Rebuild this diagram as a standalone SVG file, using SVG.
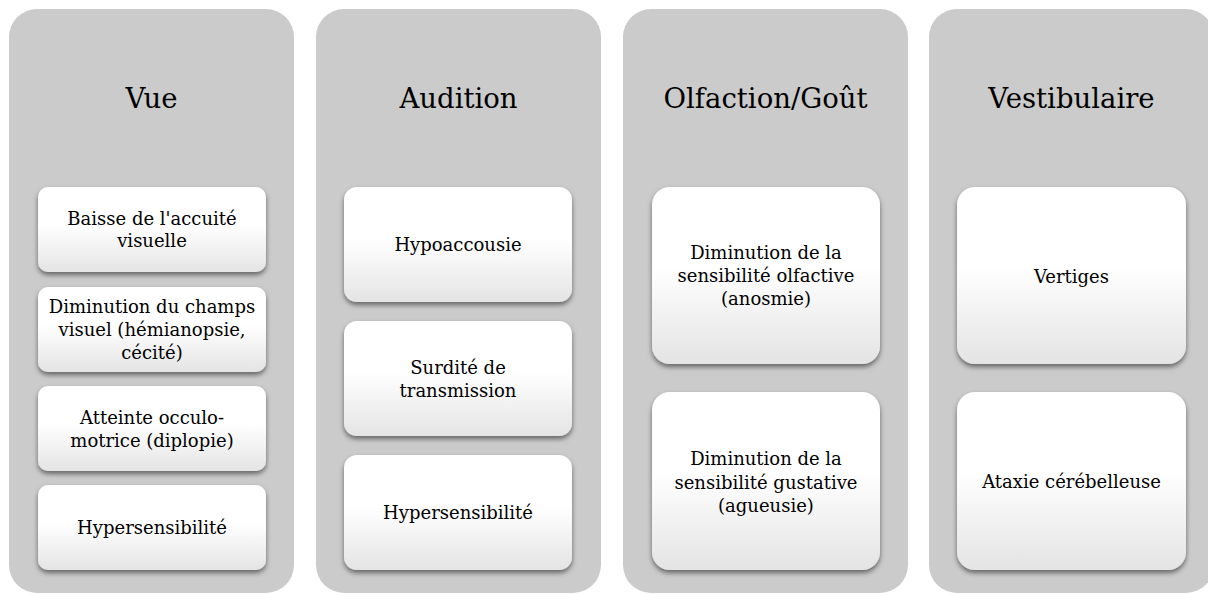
<svg xmlns="http://www.w3.org/2000/svg" width="1208" height="595" viewBox="0 0 1208 595">
<style>
.panel{fill:#cbcbcb}
.box{fill:url(#g);filter:url(#sh)}
.t{font-family:"DejaVu Serif","Liberation Serif",serif;fill:#000;text-anchor:middle}
.title{font-size:27.5px}
.lbl{font-size:18px}
</style>
<defs>
<linearGradient id="g" x1="0" y1="0" x2="0" y2="1">
<stop offset="0" stop-color="#ffffff"/>
<stop offset="0.45" stop-color="#ffffff"/>
<stop offset="1" stop-color="#e4e4e4"/>
</linearGradient>
<filter id="sh" x="-10%" y="-10%" width="120%" height="130%">
<feDropShadow dx="0" dy="3" stdDeviation="2.5" flood-color="#000" flood-opacity="0.5"/>
</filter>
</defs>
<rect width="1208" height="595" fill="#fff"/>
<g id="vue">
<rect class="panel" x="9" y="9" width="285" height="584" rx="28"/>
<text class="t title" x="151.5" y="107.5">Vue</text>
<g id="vue-1"><rect class="box" x="38" y="187" width="228" height="85" rx="10"/>
<text class="t lbl" x="152" y="224.5">Baisse de l'accuité</text><text class="t lbl" x="152" y="247">visuelle</text></g>
<g id="vue-2"><rect class="box" x="38" y="287" width="228" height="85" rx="10"/>
<text class="t lbl" x="152" y="313">Diminution du champs</text><text class="t lbl" x="152" y="335.5">visuel (hémianopsie,</text><text class="t lbl" x="152" y="358.5">cécité)</text></g>
<g id="vue-3"><rect class="box" x="38" y="386" width="228" height="85" rx="10"/>
<text class="t lbl" x="152" y="423.5">Atteinte occulo-</text><text class="t lbl" x="152" y="446.5">motrice (diplopie)</text></g>
<g id="vue-4"><rect class="box" x="38" y="485" width="228" height="85" rx="10"/>
<text class="t lbl" x="152" y="533.5">Hypersensibilité</text></g>
</g>
<g id="audition">
<rect class="panel" x="316" y="9" width="285" height="584" rx="28"/>
<text class="t title" x="458.5" y="108">Audition</text>
<g id="aud-1"><rect class="box" x="344" y="187" width="228" height="115" rx="13"/>
<text class="t lbl" x="458" y="251">Hypoaccousie</text></g>
<g id="aud-2"><rect class="box" x="344" y="321" width="228" height="115" rx="13"/>
<text class="t lbl" x="458" y="374">Surdité de</text><text class="t lbl" x="458" y="396.5">transmission</text></g>
<g id="aud-3"><rect class="box" x="344" y="455" width="228" height="115" rx="13"/>
<text class="t lbl" x="458" y="518.5">Hypersensibilité</text></g>
</g>
<g id="olfaction">
<rect class="panel" x="623" y="9" width="285" height="584" rx="28"/>
<text class="t title" x="765.5" y="108">Olfaction/Goût</text>
<g id="olf-1"><rect class="box" x="652" y="187" width="228" height="177" rx="18"/>
<text class="t lbl" x="766" y="259">Diminution de la</text><text class="t lbl" x="766" y="282">sensibilité olfactive</text><text class="t lbl" x="766" y="305">(anosmie)</text></g>
<g id="olf-2"><rect class="box" x="652" y="392" width="228" height="178" rx="18"/>
<text class="t lbl" x="766" y="465">Diminution de la</text><text class="t lbl" x="766" y="488.5">sensibilité gustative</text><text class="t lbl" x="766" y="511.5">(agueusie)</text></g>
</g>
<g id="vestibulaire">
<rect class="panel" x="929" y="9" width="285" height="584" rx="28"/>
<text class="t title" x="1071.5" y="108">Vestibulaire</text>
<g id="ves-1"><rect class="box" x="957" y="187" width="229" height="177" rx="18"/>
<text class="t lbl" x="1071.5" y="283">Vertiges</text></g>
<g id="ves-2"><rect class="box" x="957" y="392" width="229" height="178" rx="18"/>
<text class="t lbl" x="1071.5" y="488">Ataxie cérébelleuse</text></g>
</g>
<g id="connectors"/>
</svg>
